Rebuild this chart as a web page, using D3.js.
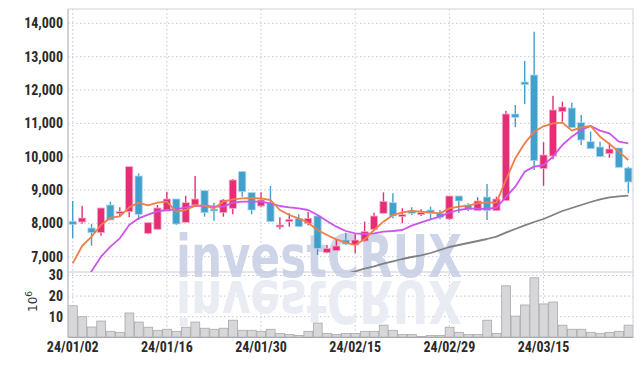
<!DOCTYPE html>
<html>
<head>
<meta charset="utf-8">
<title>investCRUX - candles</title>
<script src="https://d3js.org/d3.v7.min.js"></script>
<style>
  body { margin: 0; background: #fff; }
  text { font-family: "Liberation Sans Narrow", "Roboto Condensed", "Liberation Sans", sans-serif; }
</style>
</head>
<body>
<div id="chart"></div>
<script>

// trading days (YY/MM/DD)
var dates = [
  "24/01/02","24/01/03","24/01/04","24/01/05","24/01/08","24/01/09","24/01/10","24/01/11","24/01/12","24/01/15",
  "24/01/16","24/01/17","24/01/18","24/01/19","24/01/22","24/01/23","24/01/24","24/01/25","24/01/26","24/01/29",
  "24/01/30","24/01/31","24/02/01","24/02/02","24/02/05","24/02/06","24/02/07","24/02/08","24/02/13","24/02/14",
  "24/02/15","24/02/16","24/02/19","24/02/20","24/02/21","24/02/22","24/02/23","24/02/26","24/02/27","24/02/28",
  "24/02/29","24/03/04","24/03/05","24/03/06","24/03/07","24/03/08","24/03/11","24/03/12","24/03/13","24/03/14",
  "24/03/15","24/03/18","24/03/19","24/03/20","24/03/21","24/03/22","24/03/25","24/03/26","24/03/27","24/03/28"
];
var tickDates = ["24/01/02","24/01/16","24/01/30","24/02/15","24/02/29","24/03/15"];

var open  = [8060,8040,7860,7720,8550,8290,8350,9420,7700,7820, 8370,8730,8030,8550,8980,8430,8320,8450,9550,8920,
             8520,8600,7890,8050,8150,8000,8220,7120,7180,7500, 7350,7470,7820,8300,8620,8200,8380,8300,8400,8300,
             8130,8820,8550,8380,8790,8380,8680,11280,12240,12450, 9640,10020,11350,11460,11020,10450,10290,10090,10260,9660];
var high  = [8670,8530,7980,8470,8650,8480,9700,9500,8020,8550, 8950,8730,8830,9420,8980,8620,8730,9330,9570,8920,
             8930,9120,8180,8300,8270,8340,8220,7350,7500,7720, 7700,8050,8320,8930,8900,8450,8480,8420,8500,8400,
             8820,8820,8600,8780,9180,8800,11380,11550,12870,13750, 10430,11830,11650,11620,11250,10750,10450,10420,10260,9700];
var low   = [7550,7990,7330,7630,8100,8200,8180,8100,7670,7820, 8370,7950,8030,8550,8200,8080,8200,8270,8800,8270,
             8480,8050,7820,7900,7900,7940,7050,7100,7180,7350, 7100,7450,7820,8300,8150,8000,8250,8220,8100,8120,
             8100,8320,8360,8380,8100,8380,8680,10880,11580,9600, 9130,9920,11050,10870,10350,10240,10000,9970,9680,8900];
var close = [7970,8160,7720,8460,8100,8350,9700,8270,8020,8460, 8730,7980,8620,8730,8320,8370,8700,9300,8950,8400,
             8700,8050,7950,8120,7900,8150,7250,7250,7320,7380, 7500,7750,8220,8660,8220,8270,8300,8320,8300,8180,
             8820,8670,8420,8670,8380,8730,11280,11180,12160,9880, 10050,11400,11490,10870,10500,10240,10000,10230,9680,9240];

// moving averages as drawn on the chart
var ma5   = [6800,7320,7600,7950,8170,8210,8480,8620,8540,8620, 8650,8350,8400,8530,8530,8450,8650,8720,8750,8760,
             8750,8700,8400,8250,8150,8020,7800,7650,7520,7420, 7350,7520,7800,8050,8250,8330,8370,8350,8330,8300,
             8450,8500,8530,8600,8630,8620,9300,9950,10400,10750, 10910,11000,11020,10780,10880,10920,10600,10380,10150,9900];
var ma20  = [null,6150,6560,7000,7300,7550,7950,8150,8260,8360, 8400,8420,8480,8520,8530,8500,8500,8620,8650,8650,
             8650,8600,8520,8480,8450,8400,8250,8070,7900,7770, 7700,7680,7700,7750,7770,7800,7930,8030,8120,8200,
             8320,8400,8440,8440,8430,8470,8790,9100,9550,9700, 9750,10000,10350,10600,10800,10920,10780,10700,10450,10400];
var ma120 = [null,null,null,null,null,null,null,null,null,null, null,null,null,null,null,null,null,null,null,null,
             null,null,null,null,null,null,null,null,null,6480, 6560,6640,6710,6790,6860,6930,6990,7040,7110,7200,
             7290,7350,7410,7470,7530,7600,7720,7830,7940,8040, 8130,8250,8370,8460,8550,8640,8720,8780,8810,8830];

// volume, millions of shares
var volume = [15.3,10.0,5.0,7.9,2.9,2.4,11.8,7.4,4.9,3.4, 3.9,2.9,4.9,7.4,4.4,3.9,4.4,8.3,3.4,3.4,
              2.9,3.9,1.9,1.4,0.9,2.9,6.9,1.9,1.4,1.9, 1.9,2.9,2.9,5.9,3.4,1.4,1.4,0.4,0.9,0.9,
              4.9,2.4,1.4,1.4,8.3,1.9,25.0,10.3,15.7,28.9, 16.2,17.1,5.9,3.9,3.9,2.4,1.9,2.4,2.9,5.9];

var priceTicks = [7000,8000,9000,10000,11000,12000,13000,14000];
var volTicks = [10,20,30];

function drawChart() {

  var W = 642, H = 366;
  var pL = 68, pR = 633, pT = 9, pSplit = 272, pB = 337.3;

  var svg = d3.select("#chart").append("svg")
    .attr("width", W).attr("height", H);

  var x = d3.scaleBand().domain(dates).range([pL, pR]);
  var bw = x.bandwidth();
  var cx = function(i) { return x(dates[i]) + bw / 2; };

  var y = d3.scaleLinear().domain([6540, 14430]).range([pSplit, pT]);
  var yv = d3.scaleLinear().domain([0, 31.7]).range([pB, pSplit]);

  svg.append("defs").append("clipPath").attr("id", "clipMain")
    .append("rect").attr("x", pL).attr("y", pT).attr("width", pR - pL).attr("height", pSplit - pT);

  var gridColor = "#c3c8d8";

  // grid
  svg.append("g").selectAll("line").data(priceTicks).enter().append("line")
    .attr("x1", pL).attr("x2", pR)
    .attr("y1", function(d) { return y(d); }).attr("y2", function(d) { return y(d); })
    .attr("stroke", gridColor).attr("stroke-dasharray", "1.5,2.5");
  svg.append("g").selectAll("line").data(volTicks).enter().append("line")
    .attr("x1", pL).attr("x2", pR)
    .attr("y1", function(d) { return yv(d); }).attr("y2", function(d) { return yv(d); })
    .attr("stroke", gridColor).attr("stroke-dasharray", "1.5,2.5");
  svg.append("g").selectAll("line").data(tickDates).enter().append("line")
    .attr("x1", function(d) { return x(d) + bw / 2; }).attr("x2", function(d) { return x(d) + bw / 2; })
    .attr("y1", pT).attr("y2", pB)
    .attr("stroke", gridColor).attr("stroke-dasharray", "1.5,2.5");

  // watermark + reflection
  var wm = svg.append("g");
  wm.append("text")
    .attr("x", 176).attr("y", 277)
    .attr("textLength", 286).attr("lengthAdjust", "spacingAndGlyphs")
    .style("font-family", "'DejaVu Sans', sans-serif")
    .style("font-weight", "bold").style("font-size", "58px")
    .attr("fill", "#cfd5e8")
    .text("investCRUX");
  wm.append("text")
    .attr("x", 176).attr("y", 277)
    .attr("transform", "translate(0,558) scale(1,-1)")
    .attr("textLength", 286).attr("lengthAdjust", "spacingAndGlyphs")
    .style("font-family", "'DejaVu Sans', sans-serif")
    .style("font-weight", "bold").style("font-size", "58px")
    .attr("fill", "#eaecf3")
    .text("investCRUX");

  // volume bars
  svg.append("g").selectAll("rect").data(volume).enter().append("rect")
    .attr("x", function(d, i) { return x(dates[i]) + 0.5; })
    .attr("y", function(d) { return yv(d); })
    .attr("width", bw - 0.6)
    .attr("height", function(d) { return pB - yv(d); })
    .attr("fill", "#d7d7d9").attr("stroke", "#a9a9ad").attr("stroke-width", 0.8);

  // borders
  svg.append("rect").attr("x", pL).attr("y", pT).attr("width", pR - pL).attr("height", pB - pT)
    .attr("fill", "none").attr("stroke", "#cfd2dc");
  svg.append("line").attr("x1", pL).attr("x2", pR).attr("y1", pSplit).attr("y2", pSplit)
    .attr("stroke", "#c9ccd6");
  svg.append("line").attr("x1", pL).attr("x2", pR).attr("y1", pB).attr("y2", pB)
    .attr("stroke", "#a0a0a8");
  svg.append("line").attr("x1", pL).attr("x2", pL).attr("y1", pT).attr("y2", pB)
    .attr("stroke", "#b8bcc8");

  var plot = svg.append("g").attr("clip-path", "url(#clipMain)");

  // candles
  var upColor = "#e41d6c", downColor = "#3398c9";
  var idx = d3.range(dates.length);
  var cnd = plot.append("g").selectAll("g").data(idx).enter().append("g")
    .attr("opacity", 0.92);
  cnd.append("line")
    .attr("x1", function(i) { return cx(i); }).attr("x2", function(i) { return cx(i); })
    .attr("y1", function(i) { return y(high[i]); }).attr("y2", function(i) { return y(low[i]); })
    .attr("stroke", function(i) { return close[i] >= open[i] ? upColor : downColor; })
    .attr("stroke-width", 1.4);
  cnd.append("rect")
    .attr("x", function(i) { return cx(i) - 3.6; })
    .attr("width", 7.2)
    .attr("y", function(i) { return y(Math.max(open[i], close[i])); })
    .attr("height", function(i) { return Math.max(2, Math.abs(y(open[i]) - y(close[i]))); })
    .attr("fill", function(i) { return close[i] >= open[i] ? upColor : downColor; })
    .attr("stroke", function(i) { return close[i] >= open[i] ? "#f7a8c6" : "#a9d3ea"; })
    .attr("stroke-width", 0.8);

  // moving averages
  function maLine(arr, color, w) {
    plot.append("path")
      .datum(idx)
      .attr("fill", "none")
      .attr("stroke", color)
      .attr("stroke-width", w)
      .attr("stroke-linejoin", "round")
      .attr("d", d3.line()
        .defined(function(i) { return arr[i] != null; })
        .x(function(i) { return cx(i); })
        .y(function(i) { return y(arr[i]); }));
  }
  maLine(ma120, "#808083", 1.8);
  maLine(ma20, "#cc55ea", 1.8);
  maLine(ma5, "#ee7f48", 1.8);

  // axes labels
  var fmt = d3.format(",");
  var ya = svg.append("g").attr("transform", "translate(" + pL + ",0)")
    .call(d3.axisLeft(y).tickValues(priceTicks).tickFormat(fmt).tickSize(0).tickPadding(5));
  ya.select(".domain").remove();
  ya.selectAll("text").style("font-size", "14px").style("font-weight", "bold").attr("fill", "#2a2a2a");

  var va = svg.append("g").attr("transform", "translate(" + pL + ",0)")
    .call(d3.axisLeft(yv).tickValues(volTicks).tickSize(0).tickPadding(5));
  va.select(".domain").remove();
  va.selectAll("text").style("font-size", "14px").style("font-weight", "bold").attr("fill", "#2a2a2a");

  var xa = svg.append("g").attr("transform", "translate(0," + pB + ")")
    .call(d3.axisBottom(x).tickValues(tickDates).tickSize(0).tickPadding(5));
  xa.select(".domain").remove();
  xa.selectAll("text").style("font-size", "14px").style("font-weight", "bold").attr("fill", "#2a2a2a");

  // unit label
  var unit = svg.append("text")
    .attr("transform", "translate(37,312) rotate(-90)")
    .style("font-family", "'DejaVu Sans', sans-serif")
    .style("font-size", "12px").attr("fill", "#333");
  unit.append("tspan").text("10");
  unit.append("tspan").attr("dy", -5).style("font-size", "9px").text("6");
}

drawChart();

</script>
</body>
</html>
